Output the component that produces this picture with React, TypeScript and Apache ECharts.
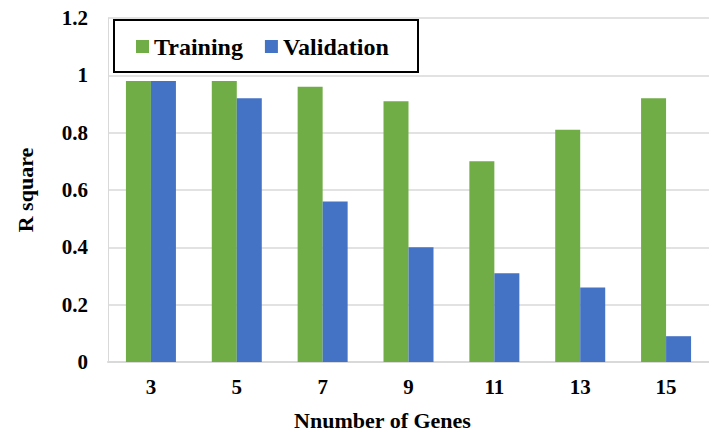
import React, { useEffect, useRef } from "react";
import * as echarts from "echarts";

const categories = ["3", "5", "7", "9", "11", "13", "15"];
const training = [0.98, 0.98, 0.96, 0.91, 0.7, 0.81, 0.92];
const validation = [0.98, 0.92, 0.56, 0.4, 0.31, 0.26, 0.09];

const FONT = "'Liberation Serif', 'Times New Roman', serif";

export default function App() {
  const ref = useRef<HTMLDivElement>(null);
  useEffect(() => {
    if (!ref.current) return;
    const chart = echarts.init(ref.current, null, { renderer: "svg" });
    chart.setOption({
      animation: false,
      backgroundColor: "#ffffff",
      grid: { left: 108, right: -2, top: 18, bottom: 75 },
      graphic: [
        {
          type: "rect",
          z: 3,
          shape: { x: 114, y: 20, width: 304, height: 52 },
          style: { fill: "#ffffff", stroke: "#000000", lineWidth: 2 },
        },
      ],
      legend: {
        z: 10,
        left: 136,
        top: 33,
        padding: 0,
        itemWidth: 13,
        itemHeight: 13,
        itemGap: 22,
        icon: "rect",
        textStyle: {
          fontFamily: FONT,
          fontWeight: "bold",
          fontSize: 24,
          color: "#000",
          lineHeight: 27,
        },
        data: ["Training", "Validation"],
      },
      xAxis: {
        type: "category",
        data: categories,
        name: "Nnumber of Genes",
        nameLocation: "middle",
        nameGap: 47,
        nameTextStyle: {
          fontFamily: FONT,
          fontWeight: "bold",
          fontSize: 22,
          color: "#000",
          padding: [0, 52, 0, 0],
        },
        axisLine: { show: true, lineStyle: { color: "#D9D9D9", width: 2 } },
        axisTick: { show: false },
        axisLabel: { margin: 14, fontFamily: FONT, fontWeight: "bold", fontSize: 21, color: "#000" },
      },
      yAxis: {
        type: "value",
        min: 0,
        max: 1.2,
        interval: 0.2,
        name: "R square",
        nameLocation: "middle",
        nameGap: 72,
        nameTextStyle: { fontFamily: FONT, fontWeight: "bold", fontSize: 22, color: "#000" },
        axisLine: { show: true, lineStyle: { color: "#D9D9D9", width: 1 } },
        axisTick: { show: false },
        axisLabel: {
          margin: 20,
          fontFamily: FONT,
          fontWeight: "bold",
          fontSize: 21,
          color: "#000",
          formatter: (v: number) => String(Math.round(v * 10) / 10),
        },
        splitLine: { show: true, lineStyle: { color: "#D9D9D9", width: 1.5 } },
      },
      series: [
        {
          name: "Training",
          type: "bar",
          data: training,
          barWidth: 25,
          barGap: "0%",
          itemStyle: { color: "#70AD47" },
        },
        {
          name: "Validation",
          type: "bar",
          data: validation,
          barWidth: 25,
          itemStyle: { color: "#4472C4" },
        },
      ],
    });
    return () => chart.dispose();
  }, []);
  return <div ref={ref} style={{ width: 709, height: 437, position: "absolute", left: 0, top: 0 }} />;
}
